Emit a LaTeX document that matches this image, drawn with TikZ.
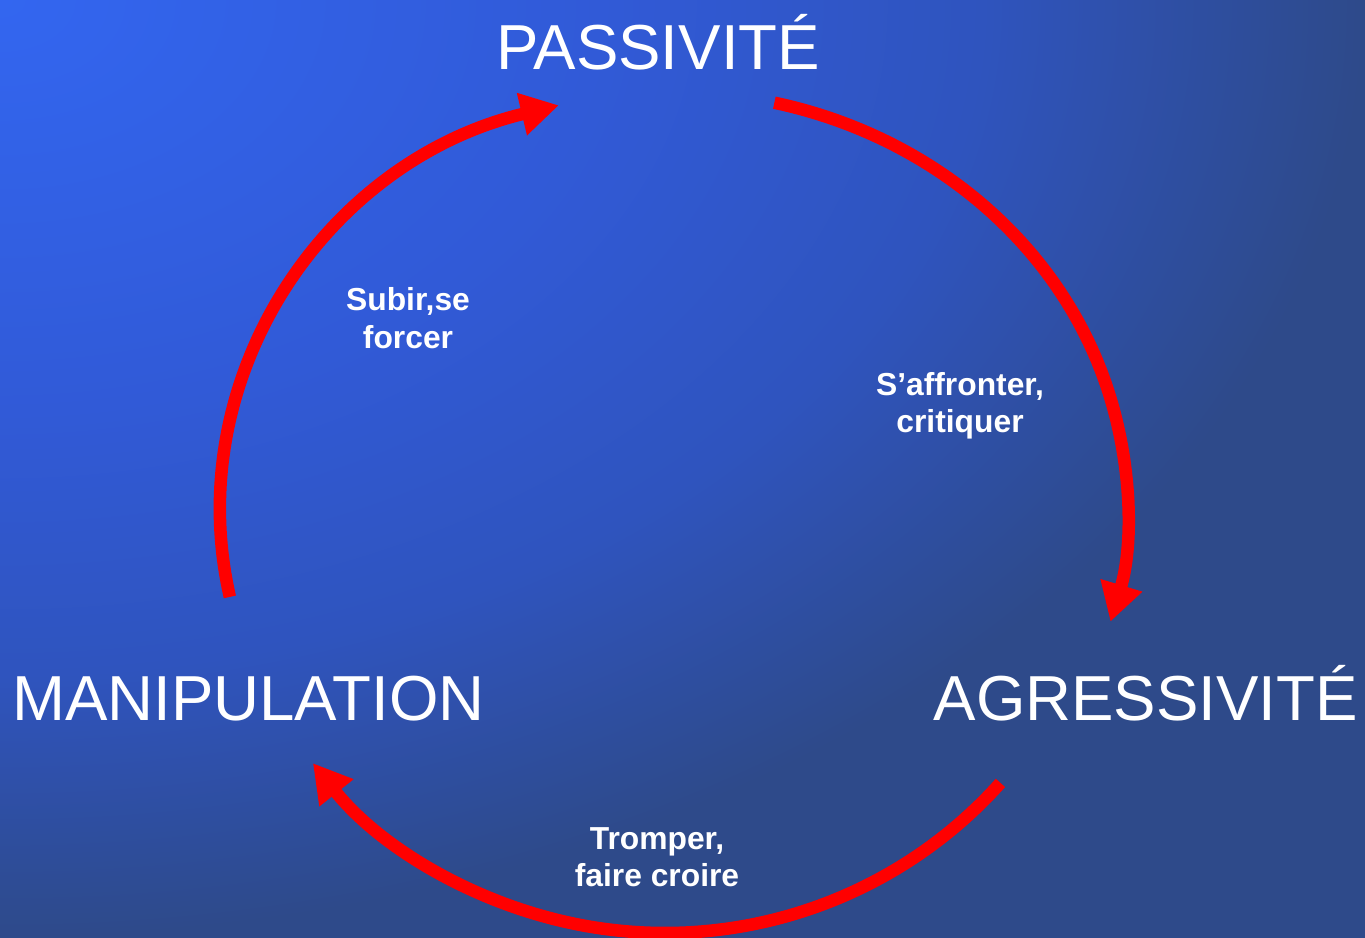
\documentclass[tikz,border=0pt]{standalone}
\usepackage{fontspec}
\setmainfont{Liberation Sans}
\usetikzlibrary{arrows.meta}

\definecolor{bgA}{RGB}{51,102,240}
\definecolor{bgB}{RGB}{49,90,215}
\definecolor{bgC}{RGB}{47,84,190}
\definecolor{bgD}{RGB}{46,74,138}
\pgfdeclareradialshading{bgshade}{\pgfpointorigin}{color(0bp)=(bgA); color(11bp)=(bgB); color(18bp)=(bgC); color(25bp)=(bgD); color(50bp)=(bgD)}

\begin{document}
\begin{tikzpicture}[x=1bp, y=1bp,
    cyclearrow/.style={draw=red, line width=12.5bp, -{Triangle[length=38bp, width=41bp]}},
    bigword/.style={text=white, inner sep=0pt, font=\fontsize{63.6bp}{64bp}\selectfont},
    smallword/.style={text=white, inner sep=0pt, align=center, font=\fontsize{31.8bp}{37.5bp}\selectfont\bfseries}]
    % fond dégradé
    \useasboundingbox (0,0) rectangle (1365,937);
    \begin{scope}
        \clip (0,0) rectangle (1365,937);
        \shade[shading=bgshade] (-1365,0) rectangle (1365,1874);
    \end{scope}

    % les trois attitudes
    \node[bigword, anchor=base] (passif) at (658,867) {PASSIVITÉ};
    \node[bigword, anchor=base west] (manip) at (12,217) {MANIPULATION};
    \node[bigword, anchor=base east] (agress) at (1358,217) {AGRESSIVITÉ};

    % centres des arcs
    \coordinate (haut) at (672,427);
    \coordinate (bas) at (665,454);

    % départs des flèches
    \coordinate (dManip) at ([shift={(192:452 and 418)}]haut);
    \coordinate (dPassif) at ([shift={(77:455 and 418)}]haut);
    \coordinate (dAgress) at ([shift={(-41.8:450)}]bas);

    % flèches du cycle
    \draw[cyclearrow] (dManip) arc[start angle=192, end angle=104.5, x radius=452, y radius=418];
    \draw[cyclearrow] (dPassif) arc[start angle=77, end angle=-15.5, x radius=455, y radius=418];
    \draw[cyclearrow] (dAgress) arc[start angle=-41.8, end angle=-141.5, radius=450];

    % légendes des flèches
    \node[smallword] (subir) at (408,619) {Subir,se\\forcer};
    \node[smallword] (affronter) at (960,531) {S’affronter,\\critiquer};
    \node[smallword] (tromper) at (657,80) {Tromper,\\faire croire};
\end{tikzpicture}
\end{document}
